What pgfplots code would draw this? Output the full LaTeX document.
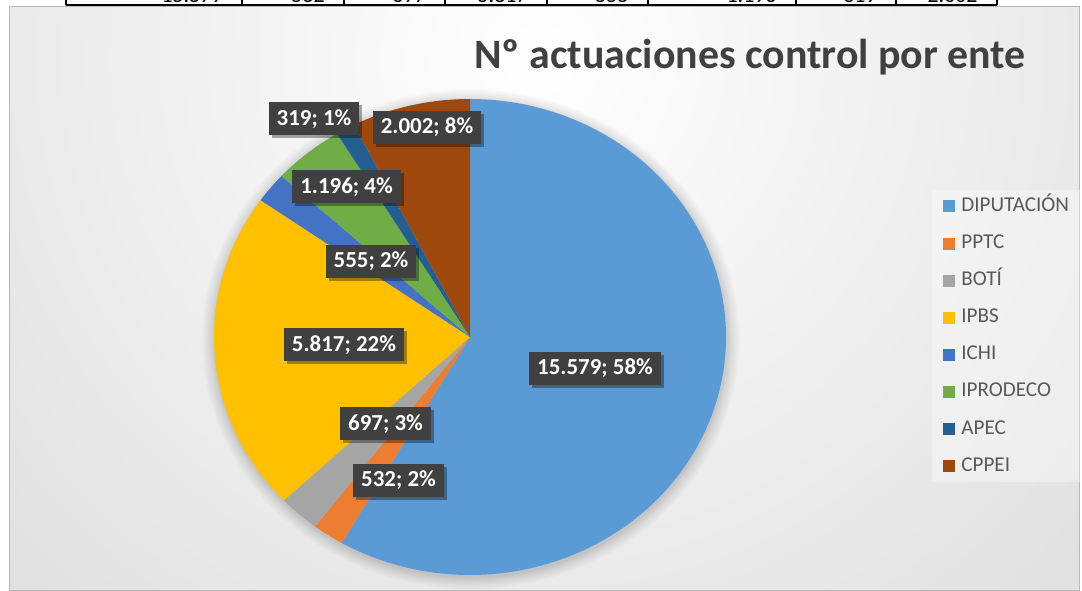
\documentclass[border=0pt]{standalone}
\usepackage{pgfplots}
\pgfplotsset{compat=1.18}
\usepackage{pgfplotstable}
\usepackage{fontspec}
\setmainfont{Carlito}
\usetikzlibrary{shadows}

\definecolor{pc0}{HTML}{5B9BD5}
\definecolor{pc1}{HTML}{ED7D31}
\definecolor{pc2}{HTML}{A5A5A5}
\definecolor{pc3}{HTML}{FFC000}
\definecolor{pc4}{HTML}{4472C4}
\definecolor{pc5}{HTML}{70AD47}
\definecolor{pc6}{HTML}{255E91}
\definecolor{pc7}{HTML}{9E480E}
\definecolor{titlegray}{HTML}{404040}
\definecolor{legendgray}{HTML}{595959}
\definecolor{lblgray}{HTML}{404040}
\definecolor{bggray}{HTML}{C2C2C2}

% values (thousands separators removed)
\pgfplotstableread{
label value
DIPUTACION 15579
PPTC 532
BOTI 697
IPBS 5817
ICHI 555
IPRODECO 1196
APEC 319
CPPEI 2002
}\piedata

% total (in thousands, to stay within pgfmath range)
\def\total{0}
\foreach \i in {0,...,7}{%
  \pgfplotstablegetelem{\i}{value}\of\piedata
  \pgfmathsetmacro\tmp{\total+\pgfplotsretval/1000}%
  \xdef\total{\tmp}%
}
% slice angles: start at 12 o'clock, clockwise
\def\runcum{0}
\foreach \i in {0,...,7}{%
  \pgfplotstablegetelem{\i}{value}\of\piedata
  \pgfmathsetmacro\hi{90-360*\runcum/\total}%
  \pgfmathsetmacro\newcum{\runcum+\pgfplotsretval/1000}%
  \pgfmathsetmacro\lo{90-360*\newcum/\total}%
  \expandafter\xdef\csname angHi\i\endcsname{\hi}%
  \expandafter\xdef\csname angLo\i\endcsname{\lo}%
  \xdef\runcum{\newcum}%
}

\tikzset{lbl/.style={fill=lblgray, text=white,
  font=\bfseries\fontsize{11.5}{13}\selectfont,
  inner xsep=4bp, inner ysep=0pt, minimum height=16.5bp,
  drop shadow={shadow xshift=1.5bp, shadow yshift=-1.5bp, opacity=0.35, fill=black}}}

\begin{document}
\begin{tikzpicture}
\begin{scope}[x=0.5bp,y=-0.5bp]
  \useasboundingbox (0,0) rectangle (1082,591);
  % background
  \begin{scope}
    \clip (9,7) rectangle (1079,591);
    \shade[inner color=white, outer color=bggray] (540,60) circle (1500);
  \end{scope}
  \draw[gray!55, line width=0.5bp] (9,7) rectangle (1079,591);
  % table row fragment at top
  \begin{scope}
    \clip (0,0) rectangle (1082,5);
    \foreach \xr/\t in {242/15.579,344/532,445/697,547/5.817,648/555,796/1.196,896/319,997/2.002}{
      \node[anchor=base east, inner sep=0pt, font=\fontsize{11}{12}\selectfont] at (\xr-19,3) {\t};
    }
  \end{scope}
  \draw[black, line width=1bp] (66,5.5) -- (997,5.5);
  \foreach \xv in {66,242,344,445,547,648,796,896,997}{
    \draw[black, line width=0.8bp] (\xv,0) -- (\xv,5.5);
  }
  % title
  \node[anchor=base west, inner sep=0pt, text=titlegray,
        font=\bfseries\fontsize{21}{25}\selectfont] at (474,69) {Nº actuaciones control por ente};
\end{scope}

\begin{axis}[
  at={(235bp,-168.5bp)}, anchor=center,
  scale only axis, width=256bp, height=238bp,
  xmin=-1, xmax=1, ymin=-1, ymax=1,
  hide axis, clip=false,
  legend entries={DIPUTACIÓN,PPTC,BOTÍ,IPBS,ICHI,IPRODECO,APEC,CPPEI},
  legend cell align=left,
  legend image code/.code={\fill[#1, fill opacity=1] (0bp,-3bp) rectangle (6bp,3bp);},
  legend style={at={(1.4023,0.8088)}, anchor=north west,
    draw=none, fill=white, fill opacity=0.35, text opacity=1,
    inner xsep=5.5bp, inner ysep=3.5bp, row sep=9.55bp, column sep=3bp,
    font=\fontsize{10.6}{12}\selectfont, text=legendgray,
    nodes={inner sep=0pt, text height=7bp, text depth=2bp}},
]
  % soft shadow around the pie
  \pgfplotsinvokeforeach{1.05,1.044,1.038,1.032,1.026,1.021,1.016,1.011,1.007,1.003}{
    \fill[black, opacity=0.016] (axis cs:0.003,-0.01) ellipse [x radius=#1, y radius=#1];
  }
  \pgfplotsinvokeforeach{0,...,7}{
    \addplot[draw=none, fill=pc#1, variable=\t, samples=120,
      domain={\csname angLo#1\endcsname}:{\csname angHi#1\endcsname}]
      ({cos(\t)},{sin(\t)}) -- (axis cs:0,0) -- cycle;
  }
\end{axis}

\begin{scope}[x=0.5bp,y=-0.5bp]
  \node[lbl] at (595,368.5) {15.579; 58\%};
  \node[lbl] at (398.5,480.5) {532; 2\%};
  \node[lbl] at (385.5,424) {697; 3\%};
  \node[lbl] at (344,345) {5.817; 22\%};
  \node[lbl] at (371,261.5) {555; 2\%};
  \node[lbl] at (346.5,187) {1.196; 4\%};
  \node[lbl] at (314,119) {319; 1\%};
  \node[lbl] at (427,127.5) {2.002; 8\%};
\end{scope}
\end{tikzpicture}
\end{document}
